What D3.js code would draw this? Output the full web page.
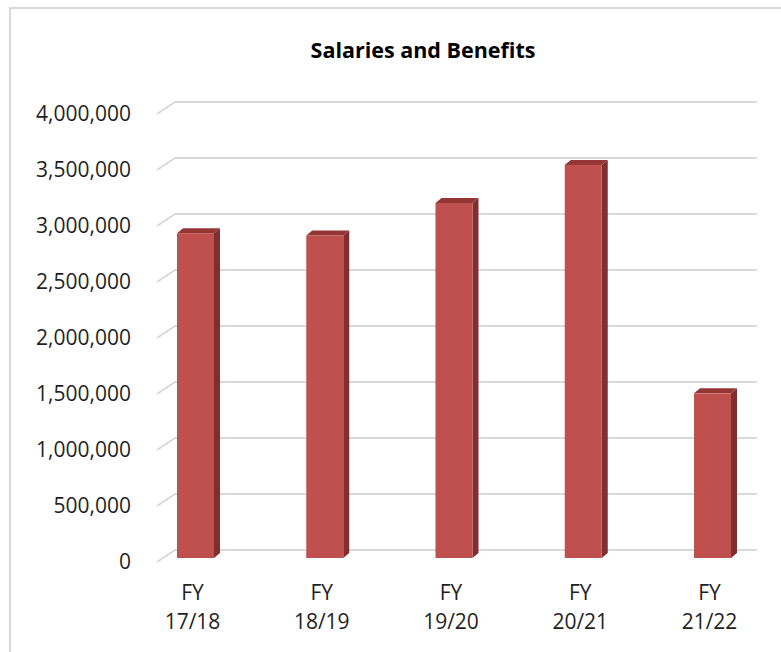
<!DOCTYPE html>
<html>
  <head>
    <title>Salaries and Benefits</title>
    <script src="https://d3js.org/d3.v7.min.js"></script>
    <style>
      body { margin: 0; background: #fff; }
      text { font-family: "Open Sans", sans-serif; fill: #1f1f1f; }
    </style>
  </head>
  <body>
    <script>
      // Data
      const categories = ["FY 17/18", "FY 18/19", "FY 19/20", "FY 20/21", "FY 21/22"];
      const values = [2900000, 2880000, 3170000, 3510000, 1470000];
      const tickValues = [0, 500000, 1000000, 1500000, 2000000, 2500000, 3000000, 3500000, 4000000];

      const width = 781;
      const height = 652;

      // 3D offsets (wall depth and bar depth)
      const wallDx = 18, wallDy = 12;
      const barDx = 6, barDy = 5, barFrontDy = 8;
      const barWidth = 37;

      const svg = d3.select("body")
        .append("svg")
        .attr("width", width)
        .attr("height", height);

      // Chart frame
      svg.append("rect")
        .attr("x", 10)
        .attr("y", 8)
        .attr("width", width + 10)
        .attr("height", height + 10)
        .attr("fill", "#fff")
        .attr("stroke", "#d9d9d9")
        .attr("stroke-width", 2);

      svg.append("text")
        .attr("x", 423)
        .attr("y", 58)
        .attr("text-anchor", "middle")
        .attr("font-size", 21.5)
        .attr("font-weight", "bold")
        .style("fill", "#000")
        .text("Salaries and Benefits");

      // y scale on the back wall
      const y = d3.scaleLinear()
        .domain([0, 4000000])
        .range([550, 102]);

      const x = d3.scalePoint()
        .domain(categories)
        .range([195.5, 712.5]);

      const backLeft = 175, backRight = 757;

      // Gridlines: back wall line plus diagonal side-wall segment
      const grid = svg.append("g");
      grid.selectAll("path")
        .data(tickValues)
        .enter()
        .append("path")
        .attr("d", d => `M${backLeft - wallDx},${y(d) + wallDy} L${backLeft},${y(d)} L${backRight},${y(d)}`)
        .attr("fill", "none")
        .attr("stroke", "#d9d9d9")
        .attr("stroke-width", 2);

      // y labels
      const fmt = d3.format(",");
      svg.append("g").selectAll("text")
        .data(tickValues)
        .enter()
        .append("text")
        .attr("x", 131)
        .attr("y", d => y(d) + wallDy)
        .attr("dy", "0.35em")
        .attr("text-anchor", "end")
        .attr("font-size", 21)
        .text(d => fmt(d));

      // Bars
      const bars = svg.append("g").selectAll("g")
        .data(values)
        .enter()
        .append("g");

      const barLeft = i => x(categories[i]) - barWidth / 2;
      const base = y(0) + barFrontDy;
      const barTop = d => y(d) + barFrontDy;

      // side face
      bars.append("path")
        .attr("d", (d, i) => {
          const l = barLeft(i) + barWidth;
          return `M${l},${barTop(d)} L${l + barDx},${barTop(d) - barDy} L${l + barDx},${base - barDy} L${l},${base} Z`;
        })
        .attr("fill", "#7f302e");

      // top face
      bars.append("path")
        .attr("d", (d, i) => {
          const l = barLeft(i);
          return `M${l},${barTop(d)} L${l + barDx},${barTop(d) - barDy} L${l + barWidth + barDx},${barTop(d) - barDy} L${l + barWidth},${barTop(d)} Z`;
        })
        .attr("fill", "#943634");

      // front face
      bars.append("rect")
        .attr("x", (d, i) => barLeft(i))
        .attr("y", d => barTop(d))
        .attr("width", barWidth)
        .attr("height", d => base - barTop(d))
        .attr("fill", "#c0504d");

      // Category labels (two lines)
      const labels = svg.append("g").selectAll("text")
        .data(categories)
        .enter()
        .append("text")
        .attr("text-anchor", "middle")
        .attr("font-size", 21);

      labels.each(function (d) {
        const parts = d.split(" ");
        const t = d3.select(this);
        parts.forEach((p, j) => {
          t.append("tspan")
            .attr("x", x(d) - 3)
            .attr("y", 600 + j * 29)
            .text(p);
        });
      });
    </script>
  </body>
</html>
